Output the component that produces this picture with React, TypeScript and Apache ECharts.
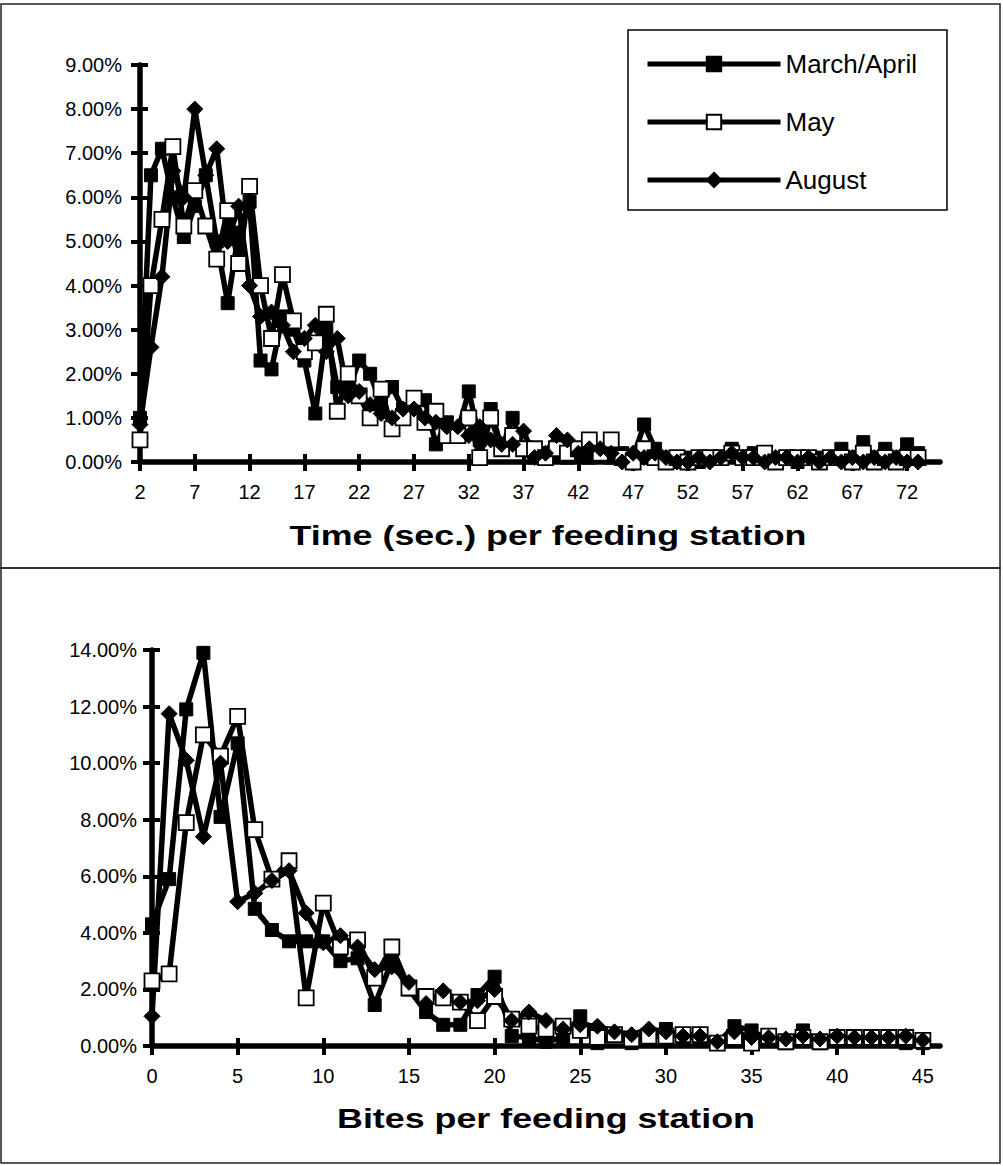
import React, { useEffect, useRef } from 'react';
import * as echarts from 'echarts';

const FONT = "'Liberation Sans', Arial, Helvetica, sans-serif";
const SERIES_NAMES = ['March/April', 'May', 'August'];

// Top chart: time (sec.) per feeding station, categories 2..75
const timeCategories = Array.from({ length: 74 }, (_, i) => String(i + 2));
// Bottom chart: bites per feeding station, categories 0..46
const biteCategories = Array.from({ length: 47 }, (_, i) => String(i));

const timeYTicks = { min: 0, max: 9, interval: 1 };
const biteYTicks = { min: 0, max: 14, interval: 2 };

// values in % for t = 2..73
const timeMarchApril = [
  1.0, 6.5, 7.1, 6.0, 5.1, 5.8, 6.5, 5.0, 3.6, 5.2,
  5.9, 2.3, 2.1, 3.3, 3.0, 2.3, 1.1, 3.0, 1.7, 1.6,
  2.3, 2.0, 1.3, 1.7, 1.2, 1.3, 1.4, 0.4, 0.9, 0.7,
  1.6, 0.5, 1.2, 0.3, 1.0, 0.3, 0.1, 0.2, 0.2, 0.1,
  0.2, 0.1, 0.2, 0.1, 0.2, 0.1, 0.85, 0.3, 0.1, 0.0,
  0.1, 0.0, 0.1, 0.1, 0.3, 0.1, 0.2, 0.1, 0.0, 0.1,
  0.0, 0.1, 0.1, 0.1, 0.3, 0.1, 0.45, 0.1, 0.3, 0.1,
  0.4, 0.2,
];
const timeMay = [
  0.5, 4.0, 5.5, 7.15, 5.35, 6.15, 5.35, 4.6, 5.7, 4.5,
  6.25, 4.0, 2.8, 4.25, 3.2, 2.5, 2.7, 3.35, 1.15, 2.0,
  1.5, 1.0, 1.65, 0.75, 1.0, 1.45, 0.9, 1.15, 0.6, 0.6,
  1.0, 0.1, 1.0, 0.3, 0.6, 0.3, 0.3, 0.1, 0.3, 0.2,
  0.3, 0.5, 0.2, 0.5, 0.1, 0.0, 0.3, 0.1, 0.0, 0.1,
  0.0, 0.1, 0.1, 0.1, 0.2, 0.1, 0.1, 0.2, 0.0, 0.1,
  0.1, 0.1, 0.0, 0.1, 0.1, 0.0, 0.2, 0.0, 0.1, 0.0,
  0.1, 0.1,
];
const timeAugust = [
  0.85, 2.6, 4.2, 6.6, 6.0, 8.0, 6.5, 7.1, 5.0, 5.8,
  4.0, 3.3, 3.4, 3.1, 2.5, 2.8, 3.1, 2.5, 2.8, 1.5,
  1.6, 1.3, 1.1, 1.0, 1.2, 1.2, 1.0, 0.9, 0.8, 0.8,
  0.6, 0.8, 0.5, 0.4, 0.4, 0.7, 0.1, 0.2, 0.6, 0.5,
  0.2, 0.3, 0.3, 0.2, 0.0, 0.2, 0.1, 0.2, 0.1, 0.0,
  0.0, 0.1, 0.0, 0.1, 0.2, 0.1, 0.1, 0.0, 0.1, 0.1,
  0.0, 0.1, 0.0, 0.1, 0.0, 0.1, 0.0, 0.1, 0.0, 0.1,
  0.0, 0.0,
];

// values in % for bites = 0..45
const biteMarchApril = [
  4.3, 5.9, 11.9, 13.9, 8.1, 10.7, 4.85, 4.1, 3.7, 3.7,
  3.7, 3.0, 3.1, 1.45, 3.0, 2.0, 1.2, 0.75, 0.75, 1.8,
  2.45, 0.35, 0.3, 0.15, 0.3, 1.05, 0.1, 0.4, 0.1, 0.3,
  0.6, 0.3, 0.3, 0.1, 0.7, 0.55, 0.2, 0.1, 0.55, 0.1,
  0.3, 0.2, 0.2, 0.2, 0.1, 0.1,
];
const biteMay = [
  2.3, 2.55, 7.9, 11.0, 10.25, 11.65, 7.65, 5.9, 6.55, 1.7,
  5.05, 3.5, 3.75, 2.4, 3.5, 2.05, 1.75, 1.7, 1.55, 0.9,
  1.75, 0.95, 0.7, 0.6, 0.7, 0.55, 0.3, 0.4, 0.25, 0.35,
  0.35, 0.4, 0.4, 0.1, 0.3, 0.1, 0.35, 0.15, 0.3, 0.15,
  0.3, 0.3, 0.3, 0.3, 0.3, 0.2,
];
const biteAugust = [
  1.05, 11.75, 10.1, 7.4, 10.0, 5.1, 5.4, 5.85, 6.2, 4.7,
  3.65, 3.9, 3.5, 2.7, 2.8, 2.25, 1.5, 1.95, 1.55, 1.6,
  2.0, 0.9, 1.2, 0.9, 0.6, 0.75, 0.7, 0.5, 0.4, 0.6,
  0.5, 0.35, 0.35, 0.15, 0.5, 0.3, 0.3, 0.25, 0.35, 0.25,
  0.35, 0.3, 0.3, 0.3, 0.35, 0.2,
];

const TOP_GRID = { left: 140, top: 65, width: 800, height: 397 };
const BOT_GRID = { left: 152, top: 650, width: 788, height: 396 };

const tickStyle = { color: '#000', width: 4 };
const labelStyle = { fontFamily: FONT, fontSize: 20, color: '#000' };

function xAxes(gridIndex: number, data: string[]) {
  const common = {
    type: 'category',
    gridIndex,
    data,
    boundaryGap: false,
    position: 'bottom',
    offset: 0,
    splitLine: { show: false },
  };
  return [
    {
      ...common,
      axisLine: { show: true, lineStyle: { color: '#000', width: 5.5 } },
      axisTick: { show: true, inside: false, length: 9, interval: 4, lineStyle: tickStyle },
      axisLabel: { ...labelStyle, interval: 4, margin: 20 },
    },
    {
      ...common,
      axisLine: { show: false },
      axisTick: { show: true, inside: true, length: 8, interval: 4, lineStyle: tickStyle },
      axisLabel: { show: false },
    },
  ];
}

function yAxes(gridIndex: number, ticks: { min: number; max: number; interval: number }, margin: number) {
  const common = {
    type: 'value',
    gridIndex,
    min: ticks.min,
    max: ticks.max,
    interval: ticks.interval,
    position: 'left',
    offset: 0,
    splitLine: { show: false },
  };
  return [
    {
      ...common,
      axisLine: { show: true, lineStyle: { color: '#000', width: 5.5 } },
      axisTick: { show: true, inside: false, length: 9, lineStyle: tickStyle },
      axisLabel: {
        ...labelStyle,
        margin,
        formatter: (v: number) => v.toFixed(2) + '%',
      },
    },
    {
      ...common,
      axisLine: { show: false },
      axisTick: { show: true, inside: true, length: 8, lineStyle: tickStyle },
      axisLabel: { show: false },
    },
  ];
}

const seriesStyles = [
  { symbol: 'rect', symbolSize: 13, itemStyle: { color: '#000', borderColor: '#000', borderWidth: 1 } },
  { symbol: 'rect', symbolSize: 15, itemStyle: { color: '#fff', borderColor: '#000', borderWidth: 1.8 } },
  { symbol: 'diamond', symbolSize: 16, itemStyle: { color: '#000', borderColor: '#000', borderWidth: 1 } },
];

function makeSeries(name: string, idx: number, data: number[], xi: number, yi: number) {
  return {
    type: 'line',
    name,
    xAxisIndex: xi,
    yAxisIndex: yi,
    data,
    showSymbol: true,
    showAllSymbol: true,
    symbol: seriesStyles[idx].symbol,
    symbolSize: seriesStyles[idx].symbolSize,
    itemStyle: seriesStyles[idx].itemStyle,
    lineStyle: { color: '#000', width: 5.5 },
    emphasis: { disabled: true },
  };
}

export default function App() {
  const ref = useRef<HTMLDivElement>(null);
  useEffect(() => {
    document.body.style.margin = '0';
    if (!ref.current) return;
    const chart = echarts.init(ref.current, undefined, { renderer: 'svg' });
    const topX = xAxes(0, timeCategories);
    const botX = xAxes(1, biteCategories);
    const topY = yAxes(0, timeYTicks, 18);
    const botY = yAxes(1, biteYTicks, 15);
    const option = {
      animation: false,
      backgroundColor: '#fff',
      grid: [
        { ...TOP_GRID, containLabel: false },
        { ...BOT_GRID, containLabel: false },
      ],
      // axes: 0 top main, 1 bottom main, 2 top inner ticks, 3 bottom inner ticks
      xAxis: [topX[0], botX[0], topX[1], botX[1]],
      yAxis: [topY[0], botY[0], topY[1], botY[1]],
      legend: {
        data: SERIES_NAMES,
        orient: 'vertical',
        left: 628,
        top: 30,
        itemWidth: 133,
        itemHeight: 18,
        itemGap: 30,
        padding: [20, 30, 16, 17],
        borderColor: '#000',
        borderWidth: 1.5,
        selectedMode: false,
        lineStyle: { width: 5, color: '#000' },
        textStyle: { fontFamily: FONT, fontSize: 26, color: '#000', lineHeight: 28 },
      },
      series: [
        makeSeries(SERIES_NAMES[0], 0, timeMarchApril, 0, 0),
        makeSeries(SERIES_NAMES[1], 1, timeMay, 0, 0),
        makeSeries(SERIES_NAMES[2], 2, timeAugust, 0, 0),
        makeSeries(SERIES_NAMES[0], 0, biteMarchApril, 1, 1),
        makeSeries(SERIES_NAMES[1], 1, biteMay, 1, 1),
        makeSeries(SERIES_NAMES[2], 2, biteAugust, 1, 1),
      ],
      graphic: [
        {
          type: 'rect',
          shape: { x: 1, y: 4, width: 999, height: 564 },
          style: { fill: 'none', stroke: '#222', lineWidth: 1.5 },
          silent: true,
        },
        {
          type: 'rect',
          shape: { x: 1, y: 568, width: 999, height: 595 },
          style: { fill: 'none', stroke: '#222', lineWidth: 1.5 },
          silent: true,
        },
        {
          type: 'text',
          x: 548,
          y: 535,
          scaleX: 1.28,
          style: {
            text: 'Time (sec.) per feeding station',
            fontFamily: FONT,
            fontSize: 28,
            fontWeight: 'bold',
            fill: '#000',
            align: 'center',
            verticalAlign: 'middle',
          },
        },
        {
          type: 'text',
          x: 546,
          y: 1118,
          scaleX: 1.28,
          style: {
            text: 'Bites per feeding station',
            fontFamily: FONT,
            fontSize: 28,
            fontWeight: 'bold',
            fill: '#000',
            align: 'center',
            verticalAlign: 'middle',
          },
        },
      ],
    };
    chart.setOption(option as any);
    return () => chart.dispose();
  }, []);
  return <div ref={ref} style={{ width: 1003, height: 1166 }} />;
}
